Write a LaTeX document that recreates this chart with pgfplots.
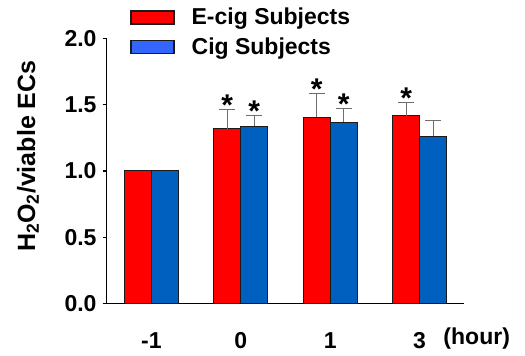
\documentclass[border=0pt]{standalone}
\usepackage{fontspec}
\setmainfont{Liberation Sans}
\usepackage{pgfplots}
\pgfplotsset{compat=1.18}
\definecolor{barred}{HTML}{FF0000}
\definecolor{barblue}{HTML}{0060C0}
\definecolor{legblue}{HTML}{3366FF}
\definecolor{errgray}{HTML}{6E6E6E}
\definecolor{edge}{HTML}{1A1A1A}
\newcommand{\tf}{\fontsize{23}{27}\selectfont\bfseries}
\begin{document}
\begin{tikzpicture}
\begin{axis}[
  at={(106.7pt,52.3pt)}, anchor=south west,
  scale only axis, width=357.6pt, height=265.4pt,
  xmin=-0.5, xmax=3.5, ymin=0, ymax=2,
  axis lines=left, axis line style={-, line width=1.3pt, black},
  xtick={0,1,2,3}, xticklabels={-1,0,1,3},
  major x tick style={draw=none},
  ytick={0,0.5,1,1.5,2},
  yticklabel style={/pgf/number format/fixed, /pgf/number format/fixed zerofill, /pgf/number format/precision=1, /pgf/number format/assume math mode=true, font=\tf, inner sep=0pt, xshift=-6pt},
  xticklabel style={font=\tf, anchor=base, inner sep=0pt, yshift=-41.3pt},
  tick align=outside, major tick length=4pt,
  major y tick style={line width=1.3pt, black},
  ylabel={H\textsubscript{2}O\textsubscript{2}/viable ECs},
  ylabel style={font=\fontsize{25}{29}\selectfont\bfseries, at={(axis description cs:-0.22,0.556)}, anchor=center, rotate=0},
  clip=false,
  legend image code/.code={\draw[#1] (0pt,-6.5pt) rectangle (43pt,6.5pt);},
  legend style={at={(rel axis cs:0.065,1.114)}, anchor=north west, draw=none, fill=none, inner sep=0pt, font=\tf,
    nodes={inner sep=0pt}, row sep=11.4pt, column sep=0pt,
    /tikz/every odd column/.append style={column sep=17pt}},
  legend cell align=left,
]
\addlegendimage{fill=barred, draw=edge, line width=1.5pt}
\addlegendentry{E-cig Subjects}
\addlegendimage{fill=legblue, draw=edge, line width=1.5pt}
\addlegendentry{Cig Subjects}

% bars
\addplot[forget plot, ybar, bar width=27pt, bar shift=-13.5pt, fill=barred, draw=edge, line width=1pt]
  coordinates {(0,1.000) (1,1.317) (2,1.405) (3,1.417)};
\addplot[forget plot, ybar, bar width=27pt, bar shift=13.5pt, fill=barblue, draw=edge, line width=1pt]
  coordinates {(0,1.000) (1,1.339) (2,1.369) (3,1.261)};

% error bars (upper only), at the bar centres
\addplot[forget plot, draw=none, mark=none,
  error bars/.cd, y dir=plus, y explicit,
  error bar style={color=errgray, line width=1pt},
  error mark options={rotate=90, mark size=8pt, color=errgray, line width=1pt}]
  coordinates {(0.849,1.317) +- (0,0.150) (1.849,1.405) +- (0,0.178) (2.849,1.417) +- (0,0.098)};
\addplot[forget plot, draw=none, mark=none,
  error bars/.cd, y dir=plus, y explicit,
  error bar style={color=errgray, line width=1pt},
  error mark options={rotate=90, mark size=8pt, color=errgray, line width=1pt}]
  coordinates {(1.151,1.339) +- (0,0.078) (2.151,1.369) +- (0,0.101) (3.151,1.261) +- (0,0.118)};

% significance stars
\addplot[forget plot, draw=none, mark=none, nodes near coords={*},
  every node near coord/.append style={font=\fontsize{30}{30}\selectfont\bfseries, inner sep=0pt, anchor=base, yshift=-6pt}]
  coordinates {(0.849,1.467) (1.151,1.417) (1.849,1.583) (2.151,1.470) (2.849,1.515)};

\node[anchor=base, font=\tf, inner sep=0pt, xshift=12.4pt, yshift=-41.3pt] at (rel axis cs:1,0) {(hour)};
\end{axis}
\pgfresetboundingbox
\path[use as bounding box] (0,0) rectangle (525pt,356pt);
\end{tikzpicture}
\end{document}
